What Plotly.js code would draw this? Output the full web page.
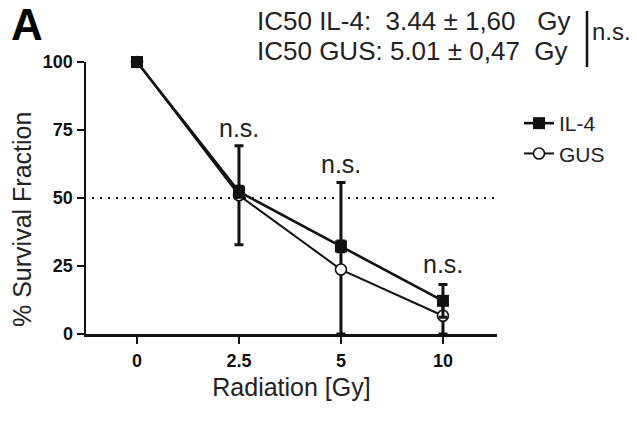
<!DOCTYPE html>
<html>
<head>
<meta charset="utf-8">
<script src="https://cdn.plot.ly/plotly-3.0.1.min.js"></script>
<style>html,body{margin:0;padding:0;background:#fff;}#chart{width:637px;height:421px;}</style>
</head>
<body>
<div id="chart"></div>
<script>
const doses = ['0', '2.5', '5', '10'];
const il4 = [100, 52.3, 32.2, 12.2];
const il4Err = [0, 2, 2, 6];
const gus = [100, 51, 23.7, 6.7];
const gusErrPlus = [0, 18.2, 32, 7];
const gusErrMinus = [0, 18.2, 23.7, 6.7];
const sigLabels = ['', 'n.s.', 'n.s.', 'n.s.'];
const sigY = [0, 70, 56.5, 20];
const yTicks = [0, 25, 50, 75, 100];
const threshold = 50;
const ic50Lines = ['IC50 IL-4:  3.44 ± 1,60   Gy', 'IC50 GUS: 5.01 ± 0,47  Gy'];
const ic50Sig = 'n.s.';

const F = 'Liberation Sans, Arial, sans-serif';
const W = 637, H = 421, L = 86, R = 140, T = 62, B = 87;
const pw = W - L - R, ph = H - T - B;
const px = v => (v - L) / pw;
const py = v => 1 - (v - T) / ph;

const traces = [
  {
    x: doses, y: gus, name: 'GUS', type: 'scatter', mode: 'lines+markers',
    legendrank: 2, cliponaxis: false,
    line: {color: '#111', width: 2},
    marker: {symbol: 'circle', size: 11, color: '#fff', line: {color: '#111', width: 1.6}},
    error_y: {type: 'data', array: gusErrPlus, arrayminus: gusErrMinus, symmetric: false,
              color: '#111', thickness: 3, width: 4.5}
  },
  {
    x: doses, y: il4, name: 'IL-4', type: 'scatter', mode: 'lines+markers',
    legendrank: 1, cliponaxis: false,
    line: {color: '#111', width: 2.6},
    marker: {symbol: 'square', size: 12, color: '#111'},
    error_y: {type: 'data', array: il4Err, color: '#111', thickness: 3, width: 4.5}
  }
];

const annotations = [];
doses.forEach((d, i) => {
  if (sigLabels[i]) {
    annotations.push({x: i, y: sigY[i], xref: 'x', yref: 'y', text: sigLabels[i],
      showarrow: false, font: {family: F, size: 25, color: '#222'}, yanchor: 'bottom'});
  }
});
annotations.push(
  {x: px(9), y: py(24), xref: 'paper', yref: 'paper', xanchor: 'left', yanchor: 'middle',
   text: '<b>A</b>', showarrow: false, font: {family: F, size: 44, color: '#000'}},
  {x: px(255), y: py(21), xref: 'paper', yref: 'paper', xanchor: 'left', yanchor: 'middle',
   text: ic50Lines[0], showarrow: false, font: {family: F, size: 26, color: '#222'}},
  {x: px(255), y: py(51), xref: 'paper', yref: 'paper', xanchor: 'left', yanchor: 'middle',
   text: ic50Lines[1], showarrow: false, font: {family: F, size: 26, color: '#222'}},
  {x: px(590), y: py(32), xref: 'paper', yref: 'paper', xanchor: 'left', yanchor: 'middle',
   text: ic50Sig, showarrow: false, font: {family: F, size: 24, color: '#222'}},
  {x: px(22), y: py(220), xref: 'paper', yref: 'paper', xanchor: 'center', yanchor: 'middle',
   text: '% Survival Fraction', textangle: -90, showarrow: false,
   font: {family: F, size: 25, color: '#222'}}
);

const layout = {
  width: W, height: H,
  margin: {l: L, r: R, t: T, b: B, pad: 0},
  paper_bgcolor: '#fff', plot_bgcolor: '#fff',
  font: {family: F, color: '#111'},
  showlegend: true,
  legend: {x: px(519), y: py(103), xanchor: 'left', yanchor: 'top', bgcolor: 'rgba(0,0,0,0)',
           font: {family: F, size: 21, color: '#222'}, itemwidth: 30,
           traceorder: 'normal', tracegroupgap: 8},
  xaxis: {
    type: 'category', range: [-0.5, 3.53], showgrid: false, zeroline: false,
    showline: true, linecolor: '#111', linewidth: 2.5,
    ticks: 'outside', ticklen: 7, tickwidth: 2.5, tickcolor: '#111',
    ticklabelstandoff: 2,
    tickfont: {family: F, size: 18, color: '#111', weight: 'bold'},
    title: {text: 'Radiation [Gy]', font: {family: F, size: 25, color: '#222'}, standoff: 9}
  },
  yaxis: {
    range: [0, 100], tickvals: yTicks, showgrid: false, zeroline: false,
    showline: true, linecolor: '#111', linewidth: 2.5,
    ticks: 'outside', ticklen: 7, tickwidth: 2.5, tickcolor: '#111',
    tickfont: {family: F, size: 18, color: '#111', weight: 'bold'}
  },
  shapes: [
    {type: 'line', xref: 'paper', yref: 'y', x0: px(92), x1: 1, y0: threshold, y1: threshold,
     line: {color: '#111', width: 2, dash: '2px,6px'}},
    {type: 'line', xref: 'paper', yref: 'paper', x0: px(587), x1: px(587),
     y0: py(11), y1: py(67), line: {color: '#111', width: 2.5}}
  ],
  annotations: annotations
};

Plotly.newPlot('chart', traces, layout, {displayModeBar: false, staticPlot: true});
</script>
</body>
</html>
